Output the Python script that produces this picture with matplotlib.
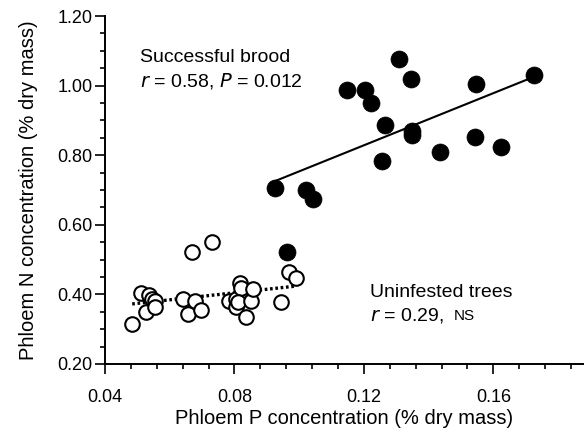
import numpy as np
import matplotlib
matplotlib.use("Agg")
import matplotlib.pyplot as plt
from matplotlib.ticker import MultipleLocator, FormatStrFormatter

plt.rcParams['font.family'] = ['Liberation Sans', 'DejaVu Sans']

# Successful brood (filled circles)
brood_p = [0.0924, 0.1020, 0.1043, 0.1149, 0.1203, 0.1223, 0.1265, 0.1257, 0.1309,
           0.1347, 0.1350, 0.1350, 0.1436, 0.1542, 0.1547, 0.1625, 0.1727, 0.0963]
brood_n = [0.707, 0.700, 0.673, 0.986, 0.986, 0.951, 0.887, 0.784, 1.076,
           1.019, 0.870, 0.858, 0.810, 0.853, 1.006, 0.824, 1.030, 0.522]

# Uninfested trees (open circles)
unin_p = [0.0484, 0.0511, 0.0526, 0.0535, 0.0545, 0.0556, 0.0553, 0.0640, 0.0656,
          0.0669, 0.0679, 0.0696, 0.0732, 0.0783, 0.0804, 0.0806, 0.0818, 0.0820,
          0.0810, 0.0835, 0.0852, 0.0856, 0.0944, 0.0969, 0.0989]
unin_n = [0.316, 0.403, 0.349, 0.399, 0.388, 0.382, 0.365, 0.386, 0.344,
          0.521, 0.382, 0.354, 0.551, 0.380, 0.387, 0.365, 0.432, 0.417,
          0.379, 0.334, 0.382, 0.415, 0.379, 0.463, 0.447]

xticks = [0.04, 0.08, 0.12, 0.16]
yticks = [0.20, 0.40, 0.60, 0.80, 1.00, 1.20]

fig = plt.figure(figsize=(5.84, 4.30), dpi=100)
ax = fig.add_axes([105/584, 66/430, 479/584, 348/430])

bp = np.array(brood_p); bn = np.array(brood_n)
up = np.array(unin_p); un = np.array(unin_n)

# regression lines
cb = np.polyfit(bp, bn, 1)
xb = np.array([bp.min(), bp.max()])
ax.plot(xb, np.polyval(cb, xb), color='black', lw=1.5, zorder=2)
cu = np.polyfit(up, un, 1)
xu = np.array([up.min(), up.max()])
ax.plot(xu, np.polyval(cu, xu), color='black', lw=2.4, linestyle=(0, (0.8, 0.8)), zorder=2)

ax.scatter(up, un, s=110, facecolors='white', edgecolors='black', linewidths=1.5, zorder=3)
ax.scatter(bp, bn, s=150, facecolors='black', edgecolors='black', linewidths=0.5, zorder=4)

ax.set_xlim(0.04, 0.188)
ax.set_ylim(0.2, 1.2)
ax.set_xticks(xticks)
ax.set_yticks(yticks)
ax.xaxis.set_minor_locator(MultipleLocator(0.008))
ax.yaxis.set_minor_locator(MultipleLocator(0.05))
ax.xaxis.set_major_formatter(FormatStrFormatter('%.2f'))
ax.yaxis.set_major_formatter(FormatStrFormatter('%.2f'))

for s in ['top', 'right']:
    ax.spines[s].set_visible(False)
for s in ['left', 'bottom']:
    ax.spines[s].set_linewidth(1.4)

ax.tick_params(which='major', direction='out', length=7, width=1.2, labelsize=13)
ax.tick_params(axis='x', which='major', pad=11)
ax.tick_params(axis='y', which='major', pad=2)
ax.tick_params(which='minor', direction='out', length=3.8, width=1.2)

ax.set_xlabel('Phloem P concentration (% dry mass)', fontsize=14.5, labelpad=2)
ax.set_ylabel('Phloem N concentration (% dry mass)', fontsize=14.5, labelpad=14)

fs = 14
ax.text(0.0508, 1.068, 'Successful brood', fontsize=fs, ha='left', va='baseline')
ax.text(0.0508, 0.996, r'$\mathit{r}$ = 0.58, $\mathit{P}$ = 0.012', fontsize=fs, ha='left', va='baseline')
ax.text(0.122, 0.393, 'Uninfested trees', fontsize=fs, ha='left', va='baseline')
ax.text(0.122, 0.326, r'$\mathit{r}$ = 0.29, ', fontsize=fs, ha='left', va='baseline')
ax.text(0.122 + 0.0258, 0.326, 'NS', fontsize=11, ha='left', va='baseline')

fig.savefig('out.png', dpi=100)
